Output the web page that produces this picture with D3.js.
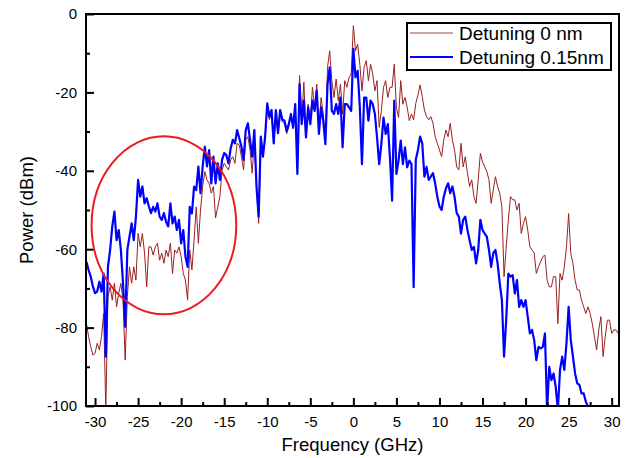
<!DOCTYPE html>
<html>
<head>
<meta charset="utf-8">
<script src="https://cdn.jsdelivr.net/npm/d3@7"></script>
<style>
  body { margin: 0; background: #fff; }
  text { font-family: Arial, "Liberation Sans", sans-serif; }
</style>
</head>
<body>
<div id="container"></div>
<script>
// sampling grid, 0.25 GHz steps from -31 GHz
const freqGHz = d3.range(-31, 30.8, 0.25);

// Detuning 0 nm (one row per GHz)
const power0nm = [
  -78.9, -82.3, -84.9, -87,
  -86.6, -84, -85.7, -82.3,
  -76.4, -101, -72.1, -69.6,
  -73, -68.7, -74.7, -71.3,
  -68.7, -73, -88.3, -72.1,
  -64.5, -68.7, -64.5, -67.9,
  -56, -59.4, -56, -61,
  -69.6, -59.4, -59.4, -61.5,
  -59.4, -58.5, -62.8, -61,
  -63.6, -60.2, -61.9, -58.5,
  -66.2, -60.2, -61, -59.4,
  -61.9, -66.2, -67.9, -73,
  -60.2, -65.3, -57.7, -49.2,
  -58.5, -50, -44, -40.2,
  -42.3, -43.2, -45.7, -44,
  -52, -49.2, -46.6, -39.8,
  -38.1, -39, -39.8, -37.2,
  -36.4, -38.1, -33, -33.4,
  -36.4, -39.8, -32.1, -31.3,
  -34.7, -40.6, -32.1, -44,
  -53.4, -33.8, -36.4, -32.1,
  -23.6, -27, -25.3, -33,
  -25.3, -30.4, -25.3, -27.5,
  -28, -30.6, -28.9, -25.5,
  -29.3, -23, -39.1, -15.7,
  -27.2, -17.4, -30.6, -23,
  -27.2, -18.7, -23.8, -17.9,
  -29.8, -21.3, -25.5, -32.3,
  -13.6, -9.4, -17, -21.3,
  -16.6, -22.1, -17.9, -25.5,
  -17, -18.7, -16.2, -15.3,
  -3, -9.4, -7.7, -12.8,
  -19.6, -13.6, -11.9, -17,
  -12.8, -15.3, -19.6, -17,
  -28.9, -24.7, -18.7, -17,
  -21.3, -18.7, -18.7, -12.8,
  -23.8, -26.4, -17, -23,
  -21.3, -23.8, -27.2, -25.5,
  -27, -22.8, -20.7, -18.1,
  -21.1, -24.5, -26.2, -27,
  -26.2, -27.9, -31.3, -33,
  -34.7, -36.4, -32.1, -29.6,
  -31.3, -27.9, -32.1, -34.7,
  -39, -39.8, -33, -39,
  -36.4, -40.6, -44, -42.3,
  -46.6, -48.3, -42.3, -35.5,
  -37.7, -39, -40.2, -42.3,
  -48.3, -44.9, -41.5, -44,
  -45.7, -49.2, -67, -59.4,
  -52.5, -46.6, -47.4, -47.4,
  -50, -48.3, -56, -53.4,
  -51.7, -55.1, -59.4, -60.2,
  -61, -66.2, -64.5, -63.2,
  -61.9, -61.5, -67.9, -69.6,
  -69.6, -67, -67, -79,
  -66.2, -67.9, -64.5, -59.4,
  -50.9, -61.1, -63.6, -67.9,
  -70.4, -70.4, -73, -74.7,
  -76.4, -74.7, -76.4, -79,
  -82.3, -85.7, -80.6, -77.2,
  -87.4, -82.3, -78.1, -78.1,
  -81.5, -80.6, -80.6, -81.5
];

// Detuning 0.15 nm (runs off the bottom near 27.5 GHz)
const power015nm = [
  -63.2, -65.3, -67, -69.5,
  -71.2, -70.8, -68.3, -70.8,
  -66.2, -87.4, -64.5, -60.2,
  -54.2, -50.4, -57.7, -55.1,
  -60.2, -68.7, -79.8, -60.2,
  -56.8, -53.4, -57.7, -51.7,
  -42.3, -46.6, -44, -48.3,
  -47, -49.1, -50.8, -49.2,
  -50.4, -48.3, -51.7, -52.5,
  -50.8, -53, -54.2, -48.3,
  -53.4, -51.7, -55.1, -52.5,
  -58.5, -55.1, -61.9, -64.5,
  -49.2, -50.9, -44, -44.9,
  -38.9, -45.7, -38.9, -33.8,
  -38.9, -34.7, -43.2, -36.4,
  -43.2, -38.1, -42.3, -37.2,
  -35.5, -36, -38.1, -34.3,
  -32.1, -33, -29.6, -31.7,
  -33.8, -37.2, -29.6, -27.9,
  -32.1, -36.4, -29.6, -44,
  -51.7, -31.3, -36.4, -31.3,
  -22.8, -26.2, -24.5, -33,
  -24.5, -30.4, -24.5, -27,
  -27.2, -29.8, -28.1, -25.5,
  -28.9, -23, -40.8, -17.9,
  -28.1, -22.1, -31.5, -23.8,
  -28.1, -22.1, -24.7, -19.6,
  -30.6, -23.8, -27.2, -33.2,
  -17.9, -13.6, -24.7, -25.5,
  -23, -25.5, -21.3, -34,
  -23, -23, -23.8, -24.7,
  -8.9, -16.2, -14.5, -23.8,
  -38.3, -21.3, -21.3, -27.2,
  -22.1, -23, -25.5, -31.5,
  -38.3, -33.2, -26.4, -30.6,
  -28.1, -36.6, -47.6, -22.1,
  -40.8, -37.4, -32.3, -38.3,
  -34, -39.1, -37.4, -38.3,
  -69.7, -37.2, -34.7, -31.3,
  -33, -41.5, -39, -42.3,
  -41.5, -40.6, -43.2, -46.6,
  -49.1, -50, -46.6, -44.5,
  -43.2, -45.7, -44, -46.6,
  -50.8, -51.7, -56, -52.5,
  -51.7, -55.1, -57.7, -60.2,
  -59.4, -63.6, -60.2, -52.5,
  -55.1, -56, -56.8, -60.2,
  -64.5, -61, -60.2, -63.6,
  -68.7, -73, -87.4, -78.1,
  -66.2, -67, -66.6, -71.3,
  -67.9, -74.7, -73, -74.7,
  -73, -77.2, -81.5, -80.6,
  -83.2, -88.3, -84.9, -85.3,
  -84.9, -81.5, -101, -90,
  -93.4, -91.7, -95.1, -101,
  -90.8, -87.4, -90.8, -84,
  -74.7, -83.2, -87.4, -91.7,
  -94.2, -94.6, -96.8, -96.8,
  -98.9, -100.2, -102
];

const xMajor = [-30, -25, -20, -15, -10, -5, 0, 5, 10, 15, 20, 25, 30];
const yMajor = [-100, -80, -60, -40, -20, 0];
const seriesNames = ['Detuning 0 nm', 'Detuning 0.15nm'];
// circled region: centre (GHz, dBm) and half-widths
const ringCentre = [-22, -53.9], ringHalf = [8.4, 22.7];

const width = 625, height = 458;
const margin = {top: 14, right: 6, bottom: 52, left: 86};
const svg = d3.select('#container').append('svg').attr('width', width).attr('height', height);

const x = d3.scaleLinear().domain([-31.05, 30.85]).range([margin.left, width - margin.right]);
const y = d3.scaleLinear().domain([-100, 0]).range([height - margin.bottom, margin.top]);

svg.append('clipPath').attr('id', 'plot').append('rect')
    .attr('x', x.range()[0]).attr('y', y(0))
    .attr('width', x.range()[1] - x.range()[0]).attr('height', y(-100) - y(0));

const line = d3.line().x((d, i) => x(freqGHz[i])).y(d => y(d));
const plot = svg.append('g').attr('clip-path', 'url(#plot)');
plot.append('path').datum(power0nm).attr('d', line)
    .attr('fill', 'none').attr('stroke', '#9a2020').attr('stroke-width', 1).attr('stroke-linejoin', 'round');
plot.append('path').datum(power015nm).attr('d', line)
    .attr('fill', 'none').attr('stroke', '#0000ff').attr('stroke-width', 2.2).attr('stroke-linejoin', 'round');

// axes, ticks pointing inward
svg.append('g').attr('transform', `translate(0,${y(-100)})`)
    .call(d3.axisBottom(x).tickValues(xMajor).tickSize(-8).tickPadding(10).tickFormat(d => String(d)));
svg.append('g').attr('transform', `translate(0,${y(-100)})`)
    .call(d3.axisBottom(x).tickValues(xMajor.slice(0, -1).map(d => d + 2.5)).tickSize(-4).tickFormat(''));
svg.append('g').attr('transform', `translate(${x.range()[0]},0)`)
    .call(d3.axisLeft(y).tickValues(yMajor).tickSize(-8).tickPadding(9).tickFormat(d => String(d)));
svg.append('g').attr('transform', `translate(${x.range()[0]},0)`)
    .call(d3.axisLeft(y).tickValues(yMajor.slice(0, -1).map(d => d + 10)).tickSize(-4).tickFormat(''));
svg.selectAll('.domain').remove();
svg.selectAll('.tick line').attr('stroke', '#000').attr('stroke-width', 2);
svg.selectAll('.tick text').attr('font-size', 15).attr('fill', '#000');

// frame
svg.append('rect')
    .attr('x', x.range()[0]).attr('y', y(0))
    .attr('width', x.range()[1] - x.range()[0]).attr('height', y(-100) - y(0))
    .attr('fill', 'none').attr('stroke', '#000').attr('stroke-width', 2);

// red ring
svg.append('ellipse')
    .attr('cx', x(ringCentre[0])).attr('cy', y(ringCentre[1]))
    .attr('rx', x(ringHalf[0]) - x(0)).attr('ry', y(0) - y(ringHalf[1]))
    .attr('fill', 'none').attr('stroke', '#ec1c24').attr('stroke-width', 2);

// axis titles
svg.append('text').attr('x', (x.range()[0] + x.range()[1]) / 2).attr('y', 451)
    .attr('text-anchor', 'middle').attr('font-size', 18.5).text('Frequency (GHz)');
svg.append('text').attr('transform', `translate(33,${(y(0) + y(-100)) / 2}) rotate(-90)`)
    .attr('text-anchor', 'middle').attr('font-size', 18.5).text('Power (dBm)');

// legend
const legend = svg.append('g').attr('transform', 'translate(407,23)');
legend.append('rect').attr('width', 204).attr('height', 47)
    .attr('fill', '#fff').attr('stroke', '#000').attr('stroke-width', 2);
const entry = legend.selectAll('g.entry').data(seriesNames).enter().append('g')
    .attr('transform', (d, i) => `translate(0,${10 + i * 24})`);
entry.append('line').attr('x1', 3).attr('x2', 46)
    .attr('stroke', (d, i) => i ? '#0000ff' : '#c08585').attr('stroke-width', (d, i) => i ? 2 : 1.5);
entry.append('text').attr('x', 52).attr('y', 7).attr('font-size', 19).text(d => d);
</script>
</body>
</html>
